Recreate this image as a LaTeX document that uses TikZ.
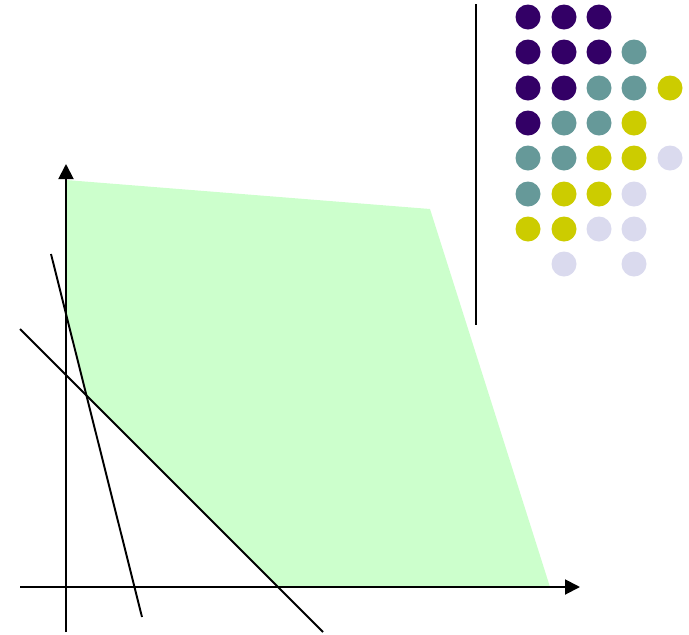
\documentclass[tikz,border=0pt]{standalone}
\usetikzlibrary{arrows.meta}

\definecolor{regionGreen}{HTML}{CCFFCC}
\definecolor{dotPurple}{HTML}{330066}
\definecolor{dotTeal}{HTML}{669999}
\definecolor{dotYellow}{HTML}{CCCC00}
\definecolor{dotLilac}{HTML}{DADAEE}

\tikzset{
    DOT/.style={inner sep=0mm, minimum size=5mm, shape=circle},
    PURPLE_DOT/.style={DOT, fill=dotPurple},
    TEAL_DOT/.style={DOT, fill=dotTeal},
    YELLOW_DOT/.style={DOT, fill=dotYellow},
    LILAC_DOT/.style={DOT, fill=dotLilac},
    EDGE/.style={draw=black, line width=1.1pt},
    AXIS/.style={EDGE, -{Triangle[length=3mm, width=3mm]}},
    REGION/.style={fill=regionGreen}
}
\pgfdeclarelayer{edgelayer}
\pgfdeclarelayer{nodelayer}
\pgfsetlayers{edgelayer,nodelayer,main}

\begin{document}
\begin{tikzpicture}[x=0.2mm, y=-0.2mm]
    \useasboundingbox (0,0) rectangle (689,634);
    \begin{pgfonlayer}{nodelayer}
        % feasible region corners
        \coordinate (r1) at (66, 180);
        \coordinate (r2) at (430, 209);
        \coordinate (r3) at (550, 587);
        \coordinate (r4) at (278, 587);
        \coordinate (r5) at (86.5, 395.5);
        \coordinate (r6) at (66, 314);
        % axes and constraint lines
        \coordinate (xa) at (20, 587);
        \coordinate (xb) at (580, 587);
        \coordinate (ya) at (66, 632);
        \coordinate (yb) at (66, 164);
        \coordinate (la) at (51, 254);
        \coordinate (lb) at (142, 617);
        \coordinate (ma) at (20, 329);
        \coordinate (mb) at (323, 632);
        \coordinate (sa) at (476, 4);
        \coordinate (sb) at (476, 325);
        % dots
        \node [PURPLE_DOT] (d1) at (528, 17) {};
        \node [PURPLE_DOT] (d2) at (564, 17) {};
        \node [PURPLE_DOT] (d3) at (599, 17) {};
        \node [PURPLE_DOT] (d4) at (528, 52) {};
        \node [PURPLE_DOT] (d5) at (564, 52) {};
        \node [PURPLE_DOT] (d6) at (599, 52) {};
        \node [TEAL_DOT] (d7) at (634, 52) {};
        \node [PURPLE_DOT] (d8) at (528, 88) {};
        \node [PURPLE_DOT] (d9) at (564, 88) {};
        \node [TEAL_DOT] (d10) at (599, 88) {};
        \node [TEAL_DOT] (d11) at (634, 88) {};
        \node [YELLOW_DOT] (d12) at (670, 88) {};
        \node [PURPLE_DOT] (d13) at (528, 123) {};
        \node [TEAL_DOT] (d14) at (564, 123) {};
        \node [TEAL_DOT] (d15) at (599, 123) {};
        \node [YELLOW_DOT] (d16) at (634, 123) {};
        \node [TEAL_DOT] (d17) at (528, 158) {};
        \node [TEAL_DOT] (d18) at (564, 158) {};
        \node [YELLOW_DOT] (d19) at (599, 158) {};
        \node [YELLOW_DOT] (d20) at (634, 158) {};
        \node [LILAC_DOT] (d21) at (670, 158) {};
        \node [TEAL_DOT] (d22) at (528, 194) {};
        \node [YELLOW_DOT] (d23) at (564, 194) {};
        \node [YELLOW_DOT] (d24) at (599, 194) {};
        \node [LILAC_DOT] (d25) at (634, 194) {};
        \node [YELLOW_DOT] (d26) at (528, 229) {};
        \node [YELLOW_DOT] (d27) at (564, 229) {};
        \node [LILAC_DOT] (d28) at (599, 229) {};
        \node [LILAC_DOT] (d29) at (634, 229) {};
        \node [LILAC_DOT] (d30) at (564, 264) {};
        \node [LILAC_DOT] (d31) at (634, 264) {};
    \end{pgfonlayer}
    \begin{pgfonlayer}{edgelayer}
        \fill[REGION] (r1) -- (r2) -- (r3) -- (r4) -- (r5) -- (r6) -- cycle;
        \draw[AXIS] (xa) to (xb);
        \draw[AXIS] (ya) to (yb);
        \draw[EDGE] (la) to (lb);
        \draw[EDGE] (ma) to (mb);
        \draw[EDGE] (sa) to (sb);
    \end{pgfonlayer}
\end{tikzpicture}
\end{document}
